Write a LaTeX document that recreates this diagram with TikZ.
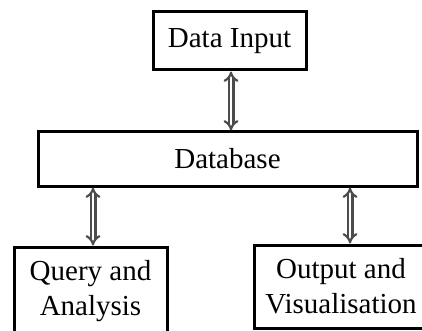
\documentclass[tikz,border=0pt]{standalone}
\usepackage{fontspec}
\setmainfont{Liberation Serif}
\usetikzlibrary{positioning,arrows.meta}

\begin{document}
\begin{tikzpicture}[x=1pt,y=-1pt,
  box/.style={draw,line width=3pt,inner sep=0pt,align=center,
    font=\fontsize{29}{35}\selectfont},
  link/.style={draw=black!70,line width=2.2pt,double distance=2.6pt,
    {Implies}-{Implies}}]

  \clip (0,0) rectangle (422,331);
  \fill[white] (0,0) rectangle (422,331);

  \node[box,minimum width=153pt,minimum height=58pt] (din) at (229.5,41) {Data Input};
  \node[box,minimum width=379pt,minimum height=54pt] (db) at (227.5,159) {Database};
  \node[box,minimum width=153pt,minimum height=88pt] (qa) at (90.5,291) {Query and\\Analysis};
  \node[box,minimum width=174pt,minimum height=83pt] (ov) at (341,286.5) {Output and\\Visualisation};

  \draw[link] ([xshift=1.5pt]din.south) -- ([xshift=1.5pt]din.south |- db.north);
  \draw[link] ([xshift=2.5pt]db.south -| qa.north) -- ([xshift=2.5pt]qa.north);
  \draw[link] ([xshift=9pt]db.south -| ov.north) -- ([xshift=9pt]ov.north);
\end{tikzpicture}
\end{document}
